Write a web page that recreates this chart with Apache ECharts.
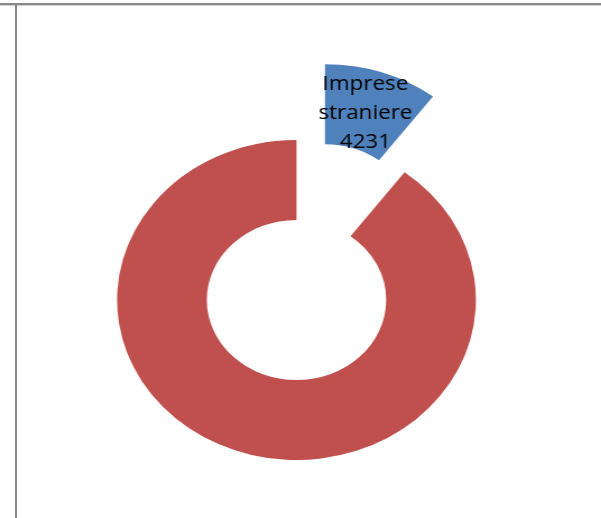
<!DOCTYPE html>
<html>
<head>
<meta charset="utf-8">
<script src="https://cdn.jsdelivr.net/npm/echarts@6/dist/echarts.min.js"></script>
<style>
  html, body { margin: 0; padding: 0; background: #fff; width: 601px; height: 518px; overflow: hidden; }
  #wrap { position: absolute; left: 0; top: 0; width: 601px; height: 518px; }
  #chart { position: absolute; left: 0; top: 0; width: 536px; height: 518px; transform: scaleX(1.1213); transform-origin: 0 0; }
  .hline1 { position: absolute; left: 0; top: 3px; width: 601px; height: 2px; background: #8a8a8a; }
  .hline2 { position: absolute; left: 0; top: 5px; width: 601px; height: 1px; background: #d0d0d0; }
  .vline1 { position: absolute; left: 15px; top: 5px; width: 2px; height: 513px; background: #8a8a8a; }
</style>
</head>
<body>
<div id="wrap">
  <div id="chart"></div>
  <div class="hline1"></div>
  <div class="hline2"></div>
  <div class="vline1"></div>
</div>
<script>
var categories = ['Imprese straniere', 'Altre imprese'];
var values = [4231, 36900];
var colors = ['#4F81BD', '#C0504D'];
var showLabel = [true, false];

var chart = echarts.init(document.getElementById('chart'), null, { renderer: 'canvas' });
var data = categories.map(function (c, i) {
  return {
    name: c,
    value: values[i],
    selected: i === 0,
    itemStyle: { color: colors[i] },
    label: { show: showLabel[i] }
  };
});
chart.setOption({
  animation: false,
  backgroundColor: 'transparent',
  series: [{
    type: 'pie',
    center: [264.4, 300],
    radius: [80, 160],
    startAngle: 90,
    clockwise: true,
    avoidLabelOverlap: false,
    selectedMode: 'single',
    selectedOffset: 80,
    label: {
      position: 'inside',
      formatter: function (p) { return p.name.replace(' ', '\n') + '\n' + p.value; },
      color: '#000',
      fontFamily: 'Open Sans',
      fontSize: 20,
      lineHeight: 29,
      padding: [0, 6, 0, 0],
      align: 'center'
    },
    labelLayout: { dy: 6 },
    labelLine: { show: false },
    emphasis: { disabled: true },
    itemStyle: { borderWidth: 0 },
    data: data
  }]
});
</script>
</body>
</html>
